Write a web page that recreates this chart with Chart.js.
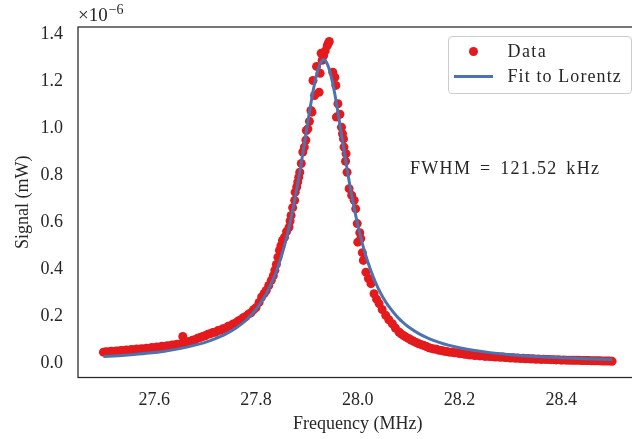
<!DOCTYPE html>
<html>
<head>
<meta charset="utf-8">
<script src="https://cdn.jsdelivr.net/npm/chart.js@4"></script>
<style>
  html, body { margin: 0; padding: 0; width: 632px; height: 439px; overflow: hidden; background: #fff; }
  #wrap { position: relative; width: 632px; height: 439px; overflow: hidden; }
  #chart { position: absolute; left: 0; top: 0; }
  .txt { position: absolute; font-family: 'Liberation Serif', serif; font-size: 18px; line-height: 20px; color: #262626; white-space: pre; }
  .legend { position: absolute; left: 447.5px; top: 36px; width: 182px; height: 56px; border: 1px solid #cccccc; border-radius: 4px; background: rgba(255,255,255,0.8); }
  .mk-dot { position: absolute; width: 9px; height: 9px; border-radius: 50%; background: #e41a1c; }
  .mk-line { position: absolute; height: 3px; background: #4c72b0; }
</style>
</head>
<body>
<div id="wrap">
  <canvas id="chart" width="642" height="439"></canvas>
  <div class="txt" style="left:78px;top:5px;font-size:19px;">×10<span style="font-size:14px;position:relative;top:-7px;margin-left:1px;">−6</span></div>
  <div class="legend"></div>
  <div class="mk-dot" style="left:469px;top:47px;"></div>
  <div class="mk-line" style="left:454px;top:75px;width:39px;"></div>
  <div class="txt" style="left:507.5px;top:41px;letter-spacing:1.4px;">Data</div>
  <div class="txt" style="left:507.5px;top:66px;letter-spacing:1.1px;">Fit to Lorentz</div>
  <div class="txt" style="left:410px;top:158px;letter-spacing:1.3px;word-spacing:3px;">FWHM = 121.52 kHz</div>
</div>
<script>
// signal values are in units of 1e-6 mW (axis offset text shows ×10^-6)
const leftTailFreq = [
  27.500, 27.505, 27.510, 27.515, 27.520, 27.525, 27.530, 27.535, 27.540, 27.545,
  27.550, 27.555, 27.560, 27.565, 27.570, 27.575, 27.580, 27.585, 27.590, 27.595,
  27.600, 27.605, 27.610, 27.615, 27.620, 27.625, 27.630, 27.635, 27.640, 27.645,
  27.650, 27.656, 27.660, 27.665, 27.670, 27.675, 27.680, 27.685, 27.690, 27.695,
  27.700, 27.705, 27.710, 27.715, 27.720, 27.725, 27.730, 27.735, 27.740, 27.745,
  27.750, 27.755, 27.760, 27.765, 27.770, 27.775, 27.780, 27.785, 27.790, 27.795,
  27.800
];
const leftTailSignal = [
  0.046, 0.048, 0.047, 0.050, 0.049, 0.051, 0.051, 0.053, 0.052, 0.055,
  0.054, 0.057, 0.056, 0.059, 0.058, 0.061, 0.060, 0.063, 0.062, 0.066,
  0.064, 0.068, 0.067, 0.071, 0.069, 0.073, 0.072, 0.077, 0.076, 0.080,
  0.080, 0.113, 0.086, 0.090, 0.091, 0.097, 0.099, 0.105, 0.108, 0.113,
  0.116, 0.122, 0.124, 0.130, 0.131, 0.138, 0.139, 0.146, 0.148, 0.156,
  0.159, 0.166, 0.170, 0.179, 0.184, 0.193, 0.198, 0.208, 0.214, 0.227,
  0.236
];

const peakFreq = [
  27.806, 27.811, 27.816, 27.820, 27.825, 27.830, 27.834, 27.837, 27.840, 27.843,
  27.846, 27.849, 27.852, 27.856, 27.860, 27.865, 27.867, 27.869, 27.872, 27.876,
  27.877, 27.880, 27.882, 27.884, 27.886, 27.889, 27.892, 27.895, 27.898, 27.899,
  27.902, 27.905, 27.908, 27.910, 27.912, 27.915, 27.919, 27.924, 27.926, 27.928,
  27.930, 27.933, 27.936, 27.940, 27.942, 27.944, 27.951, 27.955, 27.957, 27.958,
  27.961, 27.965, 27.968, 27.970, 27.972, 27.973, 27.976, 27.977, 27.979, 27.983,
  27.988, 27.993, 27.996, 27.999, 28.000, 28.004, 28.006, 28.009, 28.011, 28.016,
  28.021, 28.026, 28.032, 28.037, 28.042, 28.048, 28.055, 28.061, 28.068, 28.074,
  28.081, 28.085, 28.090, 28.095, 28.100, 28.105, 28.110, 28.115, 28.120, 28.125,
  28.130, 28.135, 28.140, 28.145
];
const peakSignal = [
  0.258, 0.281, 0.296, 0.309, 0.330, 0.352, 0.372, 0.395, 0.420, 0.451,
  0.480, 0.500, 0.522, 0.536, 0.560, 0.579, 0.605, 0.629, 0.662, 0.693,
  0.728, 0.750, 0.771, 0.792, 0.813, 0.850, 0.899, 0.920, 0.950, 0.991,
  0.998, 1.030, 1.076, 1.069, 1.204, 1.140, 1.264, 1.154, 1.235, 1.320,
  1.290, 1.310, 1.330, 1.352, 1.362, 1.370, 1.239, 1.218, 1.183, 1.048,
  1.105, 1.060, 1.005, 0.977, 0.955, 0.920, 0.860, 0.892, 0.813, 0.743,
  0.715, 0.693, 0.657, 0.594, 0.515, 0.555, 0.530, 0.470, 0.437, 0.387,
  0.360, 0.338, 0.295, 0.272, 0.253, 0.228, 0.203, 0.184, 0.167, 0.149,
  0.132, 0.124, 0.117, 0.110, 0.104, 0.098, 0.092, 0.087, 0.082, 0.078,
  0.074, 0.070, 0.065, 0.062
];

const rightTailFreq = [
  28.150, 28.155, 28.160, 28.165, 28.170, 28.175, 28.180, 28.185, 28.190, 28.195,
  28.200, 28.205, 28.210, 28.215, 28.220, 28.225, 28.230, 28.235, 28.240, 28.245,
  28.250, 28.255, 28.260, 28.265, 28.270, 28.275, 28.280, 28.285, 28.290, 28.295,
  28.300, 28.305, 28.310, 28.315, 28.320, 28.325, 28.330, 28.335, 28.340, 28.345,
  28.350, 28.355, 28.360, 28.365, 28.370, 28.375, 28.380, 28.385, 28.390, 28.395,
  28.400, 28.405, 28.410, 28.415, 28.420, 28.425, 28.430, 28.435, 28.440, 28.445,
  28.450, 28.455, 28.460, 28.465, 28.470, 28.475, 28.480, 28.485, 28.490, 28.495,
  28.500
];
const rightTailSignal = [
  0.059, 0.058, 0.054, 0.053, 0.050, 0.049, 0.046, 0.046, 0.043, 0.043,
  0.040, 0.040, 0.037, 0.037, 0.034, 0.035, 0.032, 0.033, 0.030, 0.031,
  0.028, 0.029, 0.027, 0.027, 0.025, 0.026, 0.024, 0.025, 0.023, 0.023,
  0.021, 0.022, 0.020, 0.021, 0.019, 0.020, 0.018, 0.019, 0.017, 0.018,
  0.016, 0.017, 0.015, 0.016, 0.015, 0.015, 0.014, 0.014, 0.013, 0.014,
  0.012, 0.013, 0.012, 0.012, 0.011, 0.011, 0.011, 0.011, 0.010, 0.010,
  0.010, 0.010, 0.009, 0.009, 0.009, 0.009, 0.008, 0.008, 0.008, 0.008,
  0.007
];

const fitFreq = [
  27.50, 27.53, 27.56, 27.59, 27.62, 27.65, 27.68, 27.70, 27.72, 27.74,
  27.76, 27.78, 27.80, 27.81, 27.82, 27.83, 27.84, 27.845, 27.850, 27.855,
  27.860, 27.865, 27.870, 27.875, 27.880, 27.885, 27.890, 27.895, 27.900, 27.905,
  27.910, 27.915, 27.920, 27.925, 27.930, 27.933, 27.936, 27.940, 27.945, 27.950,
  27.955, 27.960, 27.965, 27.970, 27.975, 27.980, 27.985, 27.990, 27.995, 28.000,
  28.010, 28.020, 28.030, 28.040, 28.050, 28.060, 28.070, 28.080, 28.090, 28.100,
  28.12, 28.14, 28.16, 28.18, 28.20, 28.23, 28.26, 28.30, 28.35, 28.40,
  28.45, 28.50
];
const fitSignal = [
  0.027, 0.031, 0.036, 0.042, 0.050, 0.061, 0.076, 0.088, 0.104, 0.123,
  0.148, 0.181, 0.228, 0.259, 0.294, 0.339, 0.391, 0.422, 0.456, 0.493,
  0.534, 0.579, 0.628, 0.682, 0.740, 0.801, 0.866, 0.933, 1.002, 1.069,
  1.133, 1.189, 1.236, 1.270, 1.289, 1.292, 1.289, 1.275, 1.244, 1.200,
  1.145, 1.082, 1.015, 0.947, 0.879, 0.814, 0.751, 0.693, 0.639, 0.589,
  0.501, 0.429, 0.369, 0.319, 0.278, 0.244, 0.216, 0.191, 0.171, 0.153,
  0.125, 0.104, 0.088, 0.075, 0.065, 0.053, 0.044, 0.035, 0.027, 0.022,
  0.018, 0.015
];

const xTicks = [27.6, 27.8, 28.0, 28.2, 28.4];
const yTicks = [0.0, 0.2, 0.4, 0.6, 0.8, 1.0, 1.2, 1.4];

const RED = '#e41a1c';
const BLUE = '#4c72b0';
const INK = '#262626';
const FONT = { family: "'Liberation Serif', serif", size: 18 };

function pairs(xs, ys) {
  return xs.map((x, i) => ({ x, y: ys[i] }));
}

const dataPoints = [
  ...pairs(leftTailFreq, leftTailSignal),
  ...pairs(peakFreq, peakSignal),
  ...pairs(rightTailFreq, rightTailSignal)
];

const framePlugin = {
  id: 'frame',
  afterDraw(c) {
    const { ctx, chartArea: a } = c;
    ctx.save();
    ctx.strokeStyle = INK;
    ctx.lineWidth = 1.25;
    ctx.strokeRect(a.left, a.top, a.right - a.left, a.bottom - a.top);
    ctx.restore();
  }
};

new Chart(document.getElementById('chart'), {
  type: 'scatter',
  data: {
    datasets: [
      {
        label: 'Data',
        data: dataPoints,
        pointRadius: 4.5,
        pointBackgroundColor: RED,
        pointBorderWidth: 0,
        showLine: false,
        order: 1
      },
      {
        label: 'Fit to Lorentz',
        data: pairs(fitFreq, fitSignal),
        showLine: true,
        borderColor: BLUE,
        borderWidth: 3,
        pointRadius: 0,
        cubicInterpolationMode: 'monotone',
        order: 0
      }
    ]
  },
  options: {
    responsive: false,
    animation: false,
    devicePixelRatio: 1,
    layout: { padding: { top: 27, right: 2.4, left: 0, bottom: 0 } },
    plugins: { legend: { display: false }, tooltip: { enabled: false } },
    scales: {
      x: {
        type: 'linear',
        min: 27.45,
        max: 28.55,
        afterBuildTicks: s => { s.ticks = xTicks.map(v => ({ value: v })); },
        afterFit: s => { s.height = 61.5; },
        grid: { display: false },
        border: { display: false },
        ticks: { color: INK, font: FONT, padding: 4, maxRotation: 0, callback: v => v.toFixed(1) },
        title: { display: true, text: 'Frequency (MHz)', color: INK, font: FONT, padding: { top: 0, bottom: 4.2 } }
      },
      y: {
        min: -0.062,
        max: 1.432,
        afterBuildTicks: s => { s.ticks = yTicks.map(v => ({ value: v })); },
        afterFit: s => { s.width = 78; },
        grid: { display: false },
        border: { display: false },
        ticks: { color: INK, font: FONT, padding: 7, callback: v => v.toFixed(1) },
        title: { display: true, text: 'Signal (mW)', color: INK, font: FONT, padding: { top: 12.5, bottom: 0 } }
      }
    }
  },
  plugins: [framePlugin]
});
</script>
</body>
</html>
